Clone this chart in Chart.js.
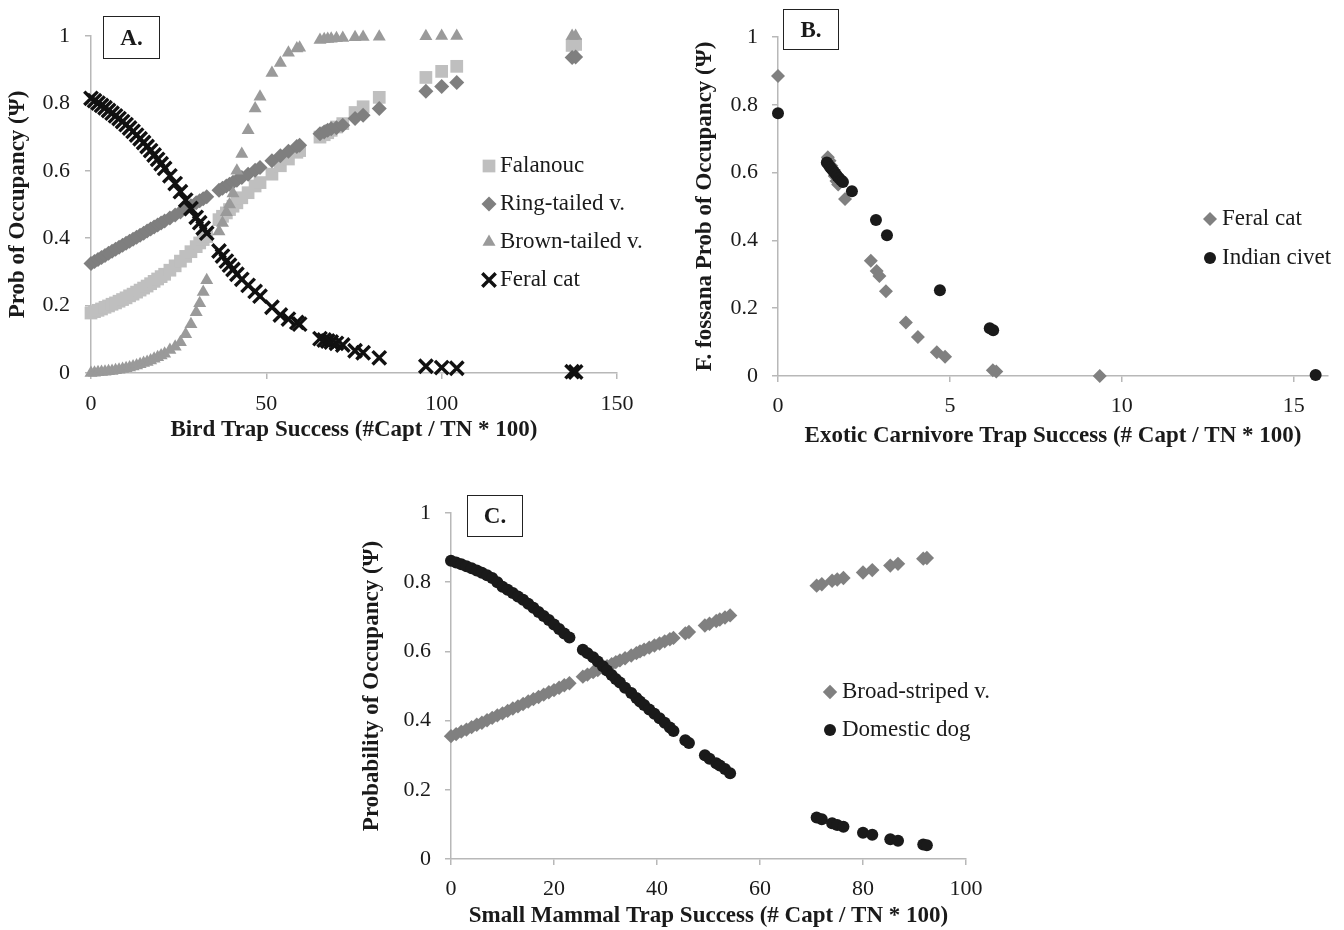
<!DOCTYPE html>
<html>
<head>
<meta charset="utf-8">
<script src="https://cdn.jsdelivr.net/npm/chart.js@4.4.1/dist/chart.umd.min.js"></script>
<style>
  body{margin:0;background:#fff;width:1344px;height:930px;position:relative;overflow:hidden;font-family:'Liberation Serif','Times New Roman',serif}
  canvas{position:absolute}
  .tag{position:absolute;border:1.5px solid #222;font-weight:bold;font-size:23px;color:#1a1a1a;display:flex;align-items:center;justify-content:center;box-sizing:border-box}
</style>
</head>
<body>
<canvas id="chartA" width="660" height="450" style="left:0;top:0"></canvas>
<canvas id="chartB" width="684" height="450" style="left:660px;top:0"></canvas>
<canvas id="chartC" width="680" height="460" style="left:330px;top:470px"></canvas>
<div class="tag" style="left:103px;top:16px;width:57px;height:43px">A.</div>
<div class="tag" style="left:783px;top:9px;width:56px;height:41px">B.</div>
<div class="tag" style="left:467px;top:495px;width:56px;height:42px">C.</div>
<script>
// ---- Panel A: bird trap success ----
const birdX = [0,1,2,3,4,5,6,7,8,9,10,11,12,13,14,15,16,17,18,19,20,21,
  22.5,24,25.5,27,28.5,30,31,32,33,
  36.5,37.5,38.6,39.5,40.5,41.6,43,44.8,46.8,48.2,51.6,54,56.3,58.7,59.5,
  65.3,66.5,67.5,68.5,70,71.8,75.3,77.6,82.2,
  95.5,100,104.3,137.2,138.2];
const falanoucA = [.178,.182,.186,.19,.195,.199,.204,.208,.213,.218,.223,.229,.234,.24,.246,.252,.258,.265,.272,.279,.286,.293,
  .305,.318,.332,.346,.36,.375,.386,.396,.405,
  .455,.465,.475,.485,.495,.505,.52,.535,.555,.565,.59,.615,.635,.655,.66,
  .70,.707,.713,.72,.73,.74,.773,.79,.818,
  .877,.895,.91,.972,.975];
const ringTailedA = [.325,.331,.337,.343,.349,.355,.361,.367,.373,.379,.385,.391,.397,.403,.409,.415,.421,.427,.433,.439,.445,.451,
  .46,.469,.478,.487,.496,.505,.511,.517,.523,
  .542,.548,.555,.56,.566,.572,.58,.59,.602,.61,.63,.645,.658,.672,.676,
  .71,.715,.72,.725,.728,.735,.755,.765,.785,
  .836,.85,.862,.936,.938];
const brownTailedA = [0,.001,.002,.003,.004,.005,.006,.008,.01,.012,.014,.016,.019,.022,.026,.03,.033,.037,.042,.047,.052,.057,
  .068,.078,.091,.115,.145,.18,.207,.24,.275,
  .42,.445,.477,.50,.533,.60,.65,.72,.785,.82,.89,.92,.95,.963,.965,
  .988,.99,.991,.992,.993,.994,.996,.997,.998,
  .999,1,1,1,1];
const feralCatA = [.815,.808,.801,.794,.787,.779,.771,.763,.755,.746,.737,.727,.717,.706,.695,.684,.672,.66,.647,.634,.621,.607,
  .585,.562,.538,.513,.488,.462,.446,.43,.415,
  .362,.347,.332,.32,.307,.293,.278,.26,.242,.228,.195,.172,.16,.15,.145,
  .102,.098,.095,.092,.088,.083,.066,.06,.045,
  .02,.016,.014,.004,.003];

// ---- Panel B: exotic carnivore trap success ----
const catBX = [0,1.45,1.5,1.55,1.6,1.65,1.7,1.75,1.95,2.7,2.87,2.95,3.14,3.72,4.07,4.62,4.86,6.25,6.35,9.36];
const catBY = [.885,.645,.635,.62,.605,.59,.575,.565,.522,.34,.31,.295,.25,.158,.115,.07,.057,.017,.013,0];
const civetBX = [0,1.42,1.47,1.52,1.57,1.62,1.67,1.72,1.78,1.84,1.89,2.15,2.85,3.17,4.71,6.16,6.26,15.64];
const civetBY = [.775,.63,.623,.616,.61,.603,.597,.59,.583,.577,.572,.545,.46,.415,.253,.141,.135,.003];
const exoticTicks = [0,5,10,15];

// ---- Panel C: small mammal trap success ----
const mammalX = [0,1,2,3,4,5,6,7,8,9,10,11,12,13,14,15,16,17,18,19,20,21,22,23,
  25.6,26.5,27.6,28.5,29.5,30.3,31.2,32,32.8,33.8,35,36,36.7,37.5,38.5,39.5,40.5,41.5,42.5,43.2,
  45.5,46.2,49.3,50.2,51.5,52.2,53.2,54.2,
  71,72,74,75,76.2,80,81.8,85.3,86.8,91.7,92.4];
const broadStripedC = [.355,.361,.368,.374,.381,.388,.394,.401,.408,.415,.421,.428,.435,.441,.448,.455,.462,.468,.475,.482,.488,.495,.502,.508,
  .527,.533,.54,.546,.552,.557,.563,.569,.574,.58,.588,.595,.6,.605,.611,.617,.623,.629,.635,.639,
  .652,.656,.675,.68,.688,.692,.698,.704,
  .79,.794,.804,.808,.812,.828,.835,.848,.853,.868,.87];
const domesticDogC = [.862,.857,.852,.846,.84,.834,.827,.82,.812,.80,.787,.778,.769,.759,.749,.738,.726,.714,.702,.691,.678,.665,.652,.64,
  .605,.595,.583,.571,.557,.545,.532,.52,.51,.495,.48,.465,.455,.445,.432,.42,.407,.394,.38,.37,
  .343,.335,.30,.29,.277,.27,.26,.248,
  .12,.115,.103,.098,.093,.076,.07,.057,.053,.042,.04];

const serif = "'Liberation Serif', 'Times New Roman', serif";
const ink = '#1a1a1a';
const axisGrey = '#b8b8b8';

const pts = (xs, ys) => xs.map((x, i) => ({ x, y: ys[i] }));

const boxLegend = {
  id: 'boxLegend',
  afterDraw(chart, args, opts) {
    const ctx = chart.ctx;
    ctx.save();
    ctx.font = '23px ' + serif;
    ctx.textBaseline = 'middle';
    chart.data.datasets.forEach((ds, i) => {
      const y = opts.y + i * opts.gap;
      ctx.fillStyle = ds.backgroundColor;
      ctx.strokeStyle = ds.borderColor;
      ctx.lineWidth = ds.borderWidth;
      Chart.helpers.drawPoint(ctx, { pointStyle: ds.pointStyle, radius: ds.pointRadius, borderWidth: ds.borderWidth, rotation: 0 }, opts.x, y);
      ctx.fillStyle = ink;
      ctx.fillText(ds.label, opts.x + opts.textGap, y);
    });
    ctx.restore();
  }
};

function scales(c) {
  return {
    x: {
      type: 'linear', min: c.xMin, max: c.xMax,
      ticks: { stepSize: c.xStep, color: ink, font: { family: serif, size: 22 }, padding: c.xPad },
      afterBuildTicks: c.xTicks ? s => { s.ticks = c.xTicks.map(v => ({ value: v })); } : undefined,
      grid: { drawOnChartArea: false, tickLength: 6, color: axisGrey, lineWidth: 1.5 },
      border: { color: axisGrey, width: 1.5 },
      title: { display: true, text: c.xTitle, color: ink, font: { family: serif, size: 23, weight: 'bold' }, padding: { top: 0, bottom: c.xTitlePad } },
      afterFit: s => { s.height = c.xHeight; }
    },
    y: {
      type: 'linear', min: 0, max: 1,
      ticks: { stepSize: 0.2, color: ink, font: { family: serif, size: 22 }, padding: c.yPad,
        callback: v => String(Number(v.toFixed(1))) },
      grid: { drawOnChartArea: false, tickLength: 6, color: axisGrey, lineWidth: 1.5 },
      border: { color: axisGrey, width: 1.5 },
      title: { display: true, text: c.yTitle, color: ink, font: { family: serif, size: 23, weight: 'bold' }, padding: { top: 4, bottom: 0 } },
      afterFit: s => { s.width = c.yWidth; }
    }
  };
}

function ds(label, data, style, color, radius, order, extra) {
  return Object.assign({
    label, data, pointStyle: style, pointRadius: radius, pointHoverRadius: radius,
    backgroundColor: color, borderColor: color, borderWidth: 0, order, clip: false
  }, extra || {});
}

function common(padding, legend) {
  return {
    responsive: false, animation: false,
    layout: { padding },
    plugins: { legend: { display: false }, tooltip: { enabled: false }, boxLegend: legend }
  };
}

new Chart(document.getElementById('chartA'), {
  type: 'scatter',
  data: { datasets: [
    ds('Falanouc', pts(birdX, falanoucA), 'rect', '#bfbfbf', 9, 4),
    ds('Ring-tailed v.', pts(birdX, ringTailedA), 'rectRot', '#7f7f7f', 7.5, 3),
    ds('Brown-tailed v.', pts(birdX, brownTailedA), 'triangle', '#9a9a9a', 7.5, 2),
    ds('Feral cat', pts(birdX, feralCatA), 'crossRot', '#111', 9.5, 1, { borderWidth: 3.4 })
  ]},
  options: Object.assign(common({ top: 36, right: 43, left: 0, bottom: 0 }, { x: 489, y: 166, gap: 38, textGap: 11 }), {
    scales: scales({ xMin: 0, xMax: 150, xStep: 50, xPad: 12, xTitle: 'Bird Trap Success (#Capt / TN * 100)', xTitlePad: 6, xHeight: 77,
      yTitle: 'Prob of Occupancy (Ψ)', yWidth: 91, yPad: 15 })
  }),
  plugins: [boxLegend]
});

new Chart(document.getElementById('chartB'), {
  type: 'scatter',
  data: { datasets: [
    ds('Feral cat', pts(catBX, catBY), 'rectRot', '#808080', 7, 2),
    ds('Indian civet', pts(civetBX, civetBY), 'circle', '#1a1a1a', 6, 1)
  ]},
  options: Object.assign(common({ top: 37, right: 16, left: 27, bottom: 0 }, { x: 550, y: 219, gap: 39, textGap: 12 }), {
    scales: scales({ xMin: 0, xMax: 16, xStep: 5, xPad: 11, xTicks: exoticTicks, xTitle: 'Exotic Carnivore Trap Success (# Capt / TN * 100)', xTitlePad: 0, xHeight: 74,
      yTitle: 'F. fossana Prob of Occupancy (Ψ)', yWidth: 91, yPad: 14 })
  }),
  plugins: [boxLegend]
});

new Chart(document.getElementById('chartC'), {
  type: 'scatter',
  data: { datasets: [
    ds('Broad-striped v.', pts(mammalX, broadStripedC), 'rectRot', '#808080', 7.2, 2),
    ds('Domestic dog', pts(mammalX, domesticDogC), 'circle', '#1a1a1a', 6, 1)
  ]},
  options: Object.assign(common({ top: 43, right: 44, left: 24, bottom: 0 }, { x: 500, y: 222, gap: 38, textGap: 12 }), {
    scales: scales({ xMin: 0, xMax: 100, xStep: 20, xPad: 11, xTitle: 'Small Mammal Trap Success (# Capt / TN * 100)', xTitlePad: 0, xHeight: 71,
      yTitle: 'Probability of Occupancy (Ψ)', yWidth: 97, yPad: 14 })
  }),
  plugins: [boxLegend]
});
</script>
</body>
</html>
